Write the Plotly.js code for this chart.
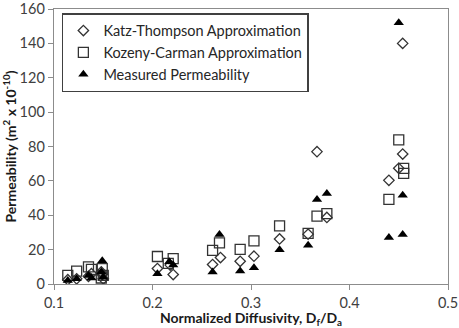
<!DOCTYPE html>
<html>
<head>
<meta charset="utf-8">
<script src="https://cdn.plot.ly/plotly-3.0.1.min.js"></script>
<style>
  html, body { margin: 0; padding: 0; background: #fff; }
  #chart { width: 459px; height: 328px; }
</style>
</head>
<body>
<div id="chart"></div>
<script>
// Normalized diffusivity (Df/Da) and permeability (m^2 x 10^-10) per sample
const ktX = [0.114, 0.123, 0.135, 0.138, 0.148, 0.149, 0.150,
             0.205, 0.218, 0.221,
             0.261, 0.269, 0.289, 0.303, 0.329, 0.358, 0.367, 0.377,
             0.440, 0.450, 0.454, 0.454];
const ktY = [2.5, 3, 4.5, 6, 7, 5.5, 3,
             9, 11, 5.5,
             11.3, 15.4, 13.2, 16.2, 26.2, 29, 77, 38.7,
             60.3, 67.3, 75.6, 140];

const kcX = [0.114, 0.123, 0.135, 0.138, 0.148, 0.149, 0.150,
             0.205, 0.216, 0.221,
             0.261, 0.268, 0.289, 0.303, 0.329, 0.358, 0.367, 0.377,
             0.440, 0.450, 0.455, 0.455];
const kcY = [5, 7.5, 10, 8.5, 3.5, 9, 5,
             16, 12, 14.8,
             19.6, 23.9, 20.2, 25.1, 33.8, 29.4, 39.5, 41,
             49.2, 83.8, 67.3, 64.4];

const measX = [0.114, 0.123, 0.135, 0.138, 0.148, 0.149, 0.150,
               0.205, 0.217, 0.221,
               0.261, 0.268, 0.289, 0.303, 0.329, 0.358, 0.367, 0.377,
               0.440, 0.450, 0.454, 0.454];
const measY = [2, 3, 5, 3.5, 7, 13.5, 4,
               6, 13, 11,
               7, 28.8, 7.6, 9.5, 20, 22.6, 49.2, 52.7,
               27, 152, 51.7, 28.8];

const xTicks = [0.1, 0.2, 0.3, 0.4, 0.5];
const yTicks = [0, 20, 40, 60, 80, 100, 120, 140, 160];

const FONT = 'Lato, "Open Sans", sans-serif';

const traces = [
  {
    x: ktX, y: ktY, type: 'scatter', mode: 'markers',
    name: 'Katz-Thompson Approximation',
    marker: { symbol: 'diamond-open', size: 8, color: '#333333', line: { width: 1.3, color: '#333333' } }
  },
  {
    x: kcX, y: kcY, type: 'scatter', mode: 'markers',
    name: 'Kozeny-Carman Approximation',
    marker: { symbol: 'square-open', size: 10, color: '#333333', line: { width: 1.3, color: '#333333' } }
  },
  {
    x: measX, y: measY, type: 'scatter', mode: 'markers',
    name: 'Measured Permeability',
    marker: { symbol: 'triangle-up', size: 9, color: '#000000' }
  }
];

const layout = {
  width: 459, height: 328,
  margin: { l: 54, r: 11, t: 9, b: 44 },
  paper_bgcolor: '#ffffff', plot_bgcolor: '#ffffff',
  font: { family: FONT, size: 14, color: '#404040' },
  showlegend: true,
  legend: {
    x: 0.02, y: 0.985, xanchor: 'left', yanchor: 'top',
    bgcolor: '#ffffff', bordercolor: '#404040', borderwidth: 1.5,
    font: { family: FONT, size: 14.5, color: '#262626' },
    tracegroupgap: 0, itemwidth: 30
  },
  xaxis: {
    range: [0.1, 0.5], tickvals: xTicks, ticktext: xTicks.map(v => v.toFixed(1)),
    showgrid: false, zeroline: false,
    showline: true, linecolor: '#8c8c8c', linewidth: 1.3, mirror: true,
    ticks: 'outside', ticklen: 5, tickcolor: '#8c8c8c', tickwidth: 1,
    tickfont: { family: FONT, size: 14.5, color: '#404040' },
    title: { text: '<b>Normalized Diffusivity, D<sub>f</sub>/D<sub>a</sub></b>', font: { family: FONT, size: 14, color: '#1a1a1a' }, standoff: 6 }
  },
  yaxis: {
    range: [0, 160.001], tickvals: yTicks, ticktext: yTicks.map(String),
    showgrid: false, zeroline: false,
    showline: true, linecolor: '#8c8c8c', linewidth: 1.3, mirror: true,
    ticks: 'outside', ticklen: 5, tickcolor: '#8c8c8c', tickwidth: 1,
    tickfont: { family: FONT, size: 14.5, color: '#404040' },
    title: { text: '<b>Permeability (m<sup>2</sup> x 10<sup>-10</sup>)</b>', font: { family: FONT, size: 14, color: '#1a1a1a' }, standoff: 3 }
  }
};

Plotly.newPlot('chart', traces, layout, { displayModeBar: false, staticPlot: true });
</script>
</body>
</html>
